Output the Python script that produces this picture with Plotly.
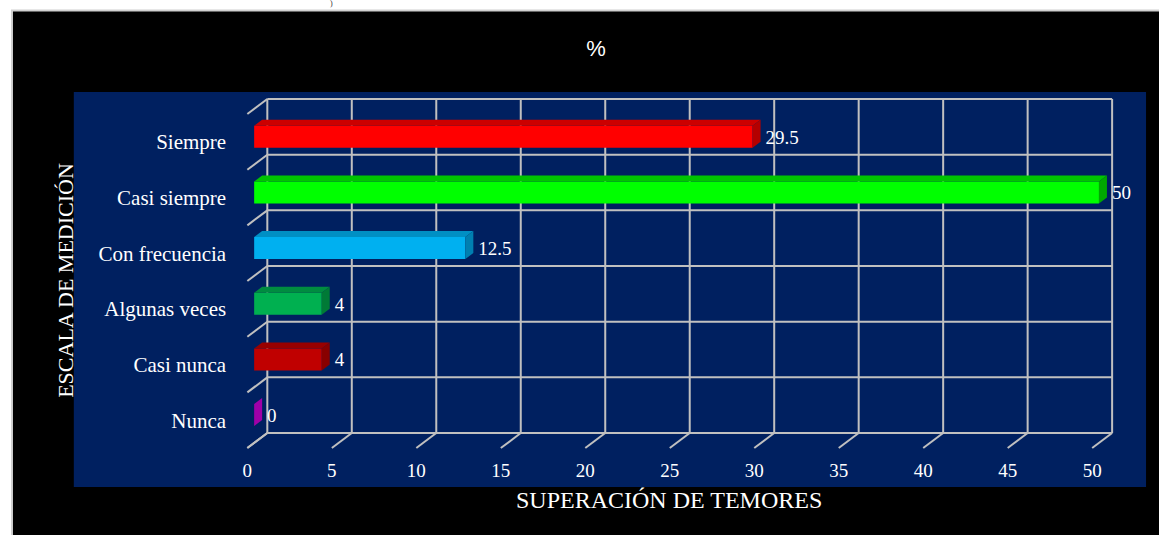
import plotly.graph_objects as go

# ---------------- data ----------------
categories = ["Siempre", "Casi siempre", "Con frecuencia", "Algunas veces", "Casi nunca", "Nunca"]
values = [29.5, 50, 12.5, 4, 4, 0]
x_ticks = [0, 5, 10, 15, 20, 25, 30, 35, 40, 45, 50]
chart_title = "%"
x_title = "SUPERACIÓN DE TEMORES"
y_title = "ESCALA DE MEDICIÓN"

# ---------------- styles ----------------
front_colors = ["#FF0000", "#00FF00", "#00B0F0", "#00B050", "#C00000", "#A000A0"]
top_colors = ["#CC0000", "#00C400", "#008FC4", "#008C40", "#980000", "#800080"]
side_colors = ["#B40000", "#00A800", "#007FB0", "#007A36", "#880000", "#A000A8"]
grid_color = "#C0C0C0"
navy = "#002060"
serif = "Liberation Serif, Times New Roman, serif"
sans = "Liberation Sans, Arial, sans-serif"

W, H = 1159, 535
KX = 16.94          # px per value unit (front plane)
KY = 55.67          # px per category
X0_PX = 245.0       # pixel of value 0 on front plane
Y0_PX = 420.2       # pixel of bottom category centre on front plane
DX = 20.0 / KX      # full depth offset (data units)
DY = 15.0 / KY
F1, F2 = 0.34, 0.74 # bar front/back depth fractions
HT = 11.0 / KY      # bar half thickness

n = len(categories)
ypos = [n - 1 - i for i in range(n)]

fig = go.Figure()

b = F1 * DX
ddx = (F2 - F1) * DX
ddy = (F2 - F1) * DY

for i, (cat, v) in enumerate(zip(categories, values)):
    yc = ypos[i] + F1 * DY
    yt = yc + HT
    yb = yc - HT
    # front face
    fig.add_trace(go.Bar(x=[v], y=[yc], base=[b], orientation="h", width=2 * HT,
                         marker=dict(color=front_colors[i], line=dict(width=0)),
                         hoverinfo="skip", showlegend=False))
    # top face
    fig.add_trace(go.Scatter(x=[b, b + v, b + v + ddx, b + ddx, b],
                             y=[yt, yt, yt + ddy, yt + ddy, yt],
                             mode="lines", fill="toself", fillcolor=top_colors[i],
                             line=dict(width=0, color=top_colors[i]),
                             hoverinfo="skip", showlegend=False))
    # side face
    fig.add_trace(go.Scatter(x=[b + v, b + v + ddx, b + v + ddx, b + v, b + v],
                             y=[yb, yb + ddy, yt + ddy, yt, yb],
                             mode="lines", fill="toself", fillcolor=side_colors[i],
                             line=dict(width=0, color=side_colors[i]),
                             hoverinfo="skip", showlegend=False))

# data labels
fig.add_trace(go.Scatter(
    x=[b + v + ddx + 5.0 / KX for v in values],
    y=[p + F1 * DY - 2.0 / KY for p in ypos],
    mode="text", text=[f"{v:g}" for v in values], textposition="middle right",
    textfont=dict(family=serif, size=19, color="white"),
    cliponaxis=False, hoverinfo="skip", showlegend=False))

shapes = [
    dict(type="rect", xref="paper", yref="paper", x0=9.0 / W, x1=1.02, y0=-0.02, y1=1 - 10.5 / H,
         fillcolor="black", line=dict(color="#D0D0D0", width=2), layer="below"),
    dict(type="rect", xref="paper", yref="paper", x0=71.0 / W, x1=1146.0 / W, y0=1 - 487.0 / H,
         y1=1 - 92.0 / H, fillcolor=navy, line=dict(width=0), layer="below"),
]
line_style = dict(color=grid_color, width=2)
bounds = [p - 0.5 for p in range(n + 1)]
# back wall verticals + floor diagonals
for t in x_ticks:
    shapes.append(dict(type="line", xref="x", yref="y", x0=t + DX, x1=t + DX,
                       y0=bounds[0] + DY, y1=bounds[-1] + DY, line=line_style, layer="below"))
    shapes.append(dict(type="line", xref="x", yref="y", x0=t, x1=t + DX,
                       y0=bounds[0], y1=bounds[0] + DY, line=line_style, layer="below"))
# back wall horizontals + left wall diagonals
for bb in bounds:
    shapes.append(dict(type="line", xref="x", yref="y", x0=x_ticks[0] + DX, x1=x_ticks[-1] + DX,
                       y0=bb + DY, y1=bb + DY, line=line_style, layer="below"))
    shapes.append(dict(type="line", xref="x", yref="y", x0=x_ticks[0], x1=x_ticks[0] + DX,
                       y0=bb, y1=bb + DY, line=line_style, layer="below"))

fig.update_layout(
    width=W, height=H,
    margin=dict(l=0, r=0, t=0, b=0),
    paper_bgcolor="white", plot_bgcolor="rgba(0,0,0,0)",
    barmode="overlay", showlegend=False,
    shapes=shapes,
    title=dict(text=chart_title, x=596.0 / W, y=1 - 48.0 / H, xanchor="center", yanchor="middle",
               font=dict(family=sans, size=22, color="white")),
    xaxis=dict(domain=[243.0 / W, 1146.0 / W],
               range=[(243.0 - X0_PX) / KX, (1146.0 - X0_PX) / KX],
               tickvals=x_ticks, ticktext=[str(t) for t in x_ticks],
               showgrid=False, zeroline=False, showline=False,
               ticks="outside", ticklen=1, tickcolor="rgba(0,0,0,0)",
               tickfont=dict(family=serif, size=19, color="white"), fixedrange=True),
    yaxis=dict(domain=[1 - 452.0 / H, 1 - 92.0 / H],
               range=[(Y0_PX - 452.0) / KY, (Y0_PX - 92.0) / KY],
               tickvals=ypos, ticktext=categories,
               showgrid=False, zeroline=False, showline=False,
               ticks="outside", ticklen=14, tickcolor="rgba(0,0,0,0)",
               tickfont=dict(family=serif, size=21, color="white"), fixedrange=True),
    annotations=[
        dict(text=x_title, xref="paper", yref="paper", x=668.0 / W, y=1 - 500.0 / H,
             xanchor="center", yanchor="middle", showarrow=False,
             font=dict(family=serif, size=24, color="white")),
        dict(text=y_title, xref="paper", yref="paper", x=62.0 / W, y=1 - 280.0 / H,
             xanchor="center", yanchor="middle", showarrow=False, textangle=-90,
             font=dict(family=serif, size=22, color="white")),
        dict(text=")", xref="paper", yref="paper", x=329.0 / W, y=1 - 4.0 / H,
             xanchor="center", yanchor="middle", showarrow=False,
             font=dict(family=serif, size=8, color="#333333")),
    ],
)

fig.write_html("out.html", config={"displayModeBar": False},
               post_script="document.body.style.margin='0';document.body.style.overflow='hidden';")
